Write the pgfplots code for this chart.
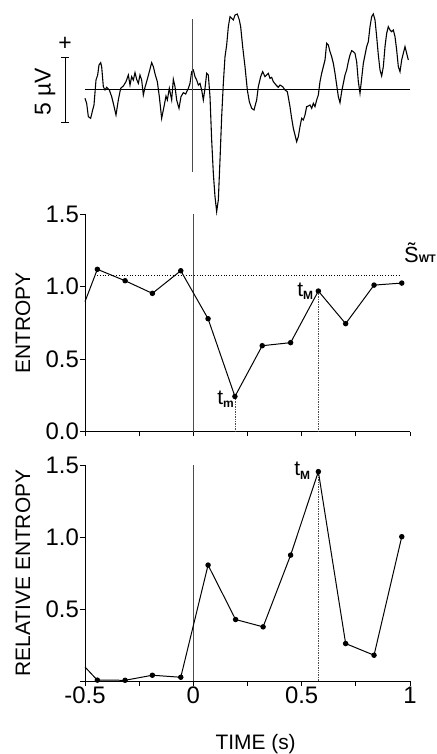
\documentclass[border=0pt]{standalone}
\usepackage{fontspec}
\setmainfont{Liberation Sans}
\usepackage{pgfplots}
\usepackage{pgfplotstable}
\pgfplotsset{compat=1.18}
\newcommand{\lbl}{\fontsize{21}{25}\selectfont}
\newcommand{\tk}{\fontsize{24}{28}\selectfont}
\newcommand{\sub}[1]{\raisebox{-0.3ex}{\fontsize{12}{12}\selectfont\bfseries #1}}

% EEG trace, read in units of the picture (x: time scale, y: amplitude, baseline at 268)
\pgfplotstableread{
x y
255 295
260 310
265 350
272 355
278 330
282 315
288 240
293 225
297 195
302 188
305 200
310 260
315 270
320 262
328 270
335 290
340 310
348 345
355 300
362 265
370 258
378 245
385 225
390 255
395 230
400 240
405 218
410 238
415 250
420 225
425 240
430 285
435 262
440 245
448 215
455 188
460 200
466 225
472 245
478 290
485 355
492 320
498 288
502 300
508 265
515 300
520 238
525 260
530 300
537 325
543 290
550 278
557 282
565 265
570 250
575 215
580 210
585 230
590 240
595 255
600 250
605 270
610 300
615 265
620 220
625 225
630 290
635 420
640 520
645 590
650 635
655 600
660 480
665 350
670 250
675 170
680 135
685 80
690 50
695 55
700 60
705 45
712 42
718 60
722 80
728 140
735 200
742 270
748 305
755 325
762 330
770 300
775 260
782 230
788 215
795 230
800 225
805 220
810 235
815 232
820 245
828 255
835 262
840 255
848 260
855 270
862 275
870 320
875 355
880 385
885 405
890 425
895 410
900 380
905 355
910 360
915 345
920 320
925 318
930 315
935 325
940 310
945 320
950 300
955 285
960 245
965 220
970 200
975 180
980 130
985 135
990 155
995 170
1000 190
1005 220
1010 255
1015 290
1020 308
1025 275
1030 250
1035 225
1040 210
1045 185
1050 165
1055 152
1060 155
1065 160
1070 185
1075 245
1080 280
1085 235
1090 190
1095 165
1100 140
1105 125
1110 80
1115 50
1120 42
1125 60
1130 110
1135 165
1140 210
1145 228
1150 200
1155 140
1160 100
1165 80
1170 90
1175 95
1180 90
1185 110
1190 150
1195 200
1200 215
1205 180
1210 160
1215 140
1220 160
1225 180
}\eeg

\pgfplotstableread{
t s
-0.5 0.897
-0.443 1.120
-0.315 1.041
-0.189 0.954
-0.058 1.110
0.068 0.779
0.192 0.243
0.318 0.593
0.449 0.614
0.577 0.970
0.703 0.745
0.834 1.011
0.962 1.025
}\entropy

\pgfplotstableread{
t s
-0.5 0.097
-0.443 0.006
-0.315 0.005
-0.189 0.040
-0.058 0.026
0.068 0.805
0.195 0.427
0.322 0.376
0.449 0.874
0.577 1.454
0.703 0.260
0.834 0.179
0.962 1.002
}\relentropy

\pgfplotsset{
  panel/.style={
    anchor=south west, scale only axis, width=325bp,
    xmin=-0.5, xmax=1, ymin=0, ymax=1.5,
    axis x line*=bottom, axis y line*=left,
    axis line style={line width=0.9pt},
    tick align=outside, major tick length=4.5bp, minor tick length=4.5bp,
    every tick/.style={black, line width=0.9pt},
    tick label style={font=\tk},
    yticklabel style={inner sep=1.5bp},
    xticklabel style={inner sep=1.5bp},
    clip=false,
    every axis y label/.style={at={(axis description cs:-0.191,0.5)}, rotate=90, anchor=center, font=\lbl},
  },
  dataline/.style={black, line width=1pt, mark=*, mark size=2.2bp, mark phase=2, mark repeat=1, mark options={solid, fill=black}},
}

\begin{document}
\begin{tikzpicture}
\path[use as bounding box] (0,0) rectangle (437bp,754bp);

% EEG trace
\begin{axis}[at={(85bp,534bp)}, anchor=south west, scale only axis,
  width=325bp, height=220bp, xmin=255, xmax=1230, ymin=0, ymax=660,
  y dir=reverse, hide axis, clip=false]
\addplot[black, line width=1.1pt] table {\eeg};
\addplot[black, line width=0.6pt] coordinates {(255,268) (1230,268)};
\addplot[black!70, line width=0.6pt] coordinates {(578,58) (578,515)};
\addplot[black, line width=0.8pt] coordinates {(195,172) (195,368)};
\addplot[black, line width=0.8pt] coordinates {(183,172) (207,172)};
\addplot[black, line width=0.8pt] coordinates {(183,368) (207,368)};
\node at (axis cs:195,132) {\fontsize{23}{27}\selectfont +};
\node[rotate=90] at (axis cs:135,275) {\fontsize{23}{27}\selectfont 5 µV};
\end{axis}

% Entropy
\begin{axis}[panel, at={(85bp,322.3bp)}, height=217.5bp,
  xtick={-0.5,-0.25,0,0.25,0.5,0.75,1}, xticklabels={},
  ytick={0,0.5,1,1.5}, yticklabels={0.0,0.5,1.0,1.5},
  ylabel={ENTROPY}]
\addplot[black!70, line width=0.6pt] coordinates {(0,0) (0,1.5)};
\addplot[black, dotted, line width=0.7pt] coordinates {(-0.443,1.078) (0.954,1.078)};
\addplot[black!70, densely dotted, line width=0.7pt] coordinates {(0.192,0) (0.192,0.243)};
\addplot[black!70, densely dotted, line width=0.7pt] coordinates {(0.577,0) (0.577,0.970)};
\addplot[dataline] table {\entropy};
\node[anchor=north east, inner sep=0, xshift=-1bp, yshift=6bp] at (axis cs:0.192,0.243) {\lbl t\sub{m}};
\node[anchor=east, inner sep=0, xshift=-5bp] at (axis cs:0.577,0.970) {\lbl t\sub{M}};
\node[anchor=base west, inner sep=0] at (axis cs:0.972,1.17) {\fontsize{22}{26}\selectfont\~{S}\fontsize{11}{11}\selectfont\bfseries WT};
\end{axis}

% Relative entropy
\begin{axis}[panel, at={(85bp,73bp)}, height=216bp,
  xtick={-0.5,0,0.5,1}, xticklabels={-0.5,0,0.5,1},
  minor xtick={-0.25,0.25,0.75},
  ytick={0,0.5,1,1.5}, yticklabels={,0.5,1.0,1.5},
  ylabel={RELATIVE ENTROPY},
  xlabel={TIME (s)},
  every axis x label/.style={at={(axis description cs:0.525,-0.316)}, anchor=base, font=\lbl}]
\addplot[black!70, line width=0.6pt] coordinates {(0,0) (0,1.5)};
\addplot[black!70, densely dotted, line width=0.7pt] coordinates {(0.577,0) (0.577,1.454)};
\addplot[dataline] table {\relentropy};
\node[anchor=east, inner sep=0, xshift=-8bp, yshift=1bp] at (axis cs:0.577,1.454) {\lbl t\sub{M}};
\end{axis}
\end{tikzpicture}
\end{document}
